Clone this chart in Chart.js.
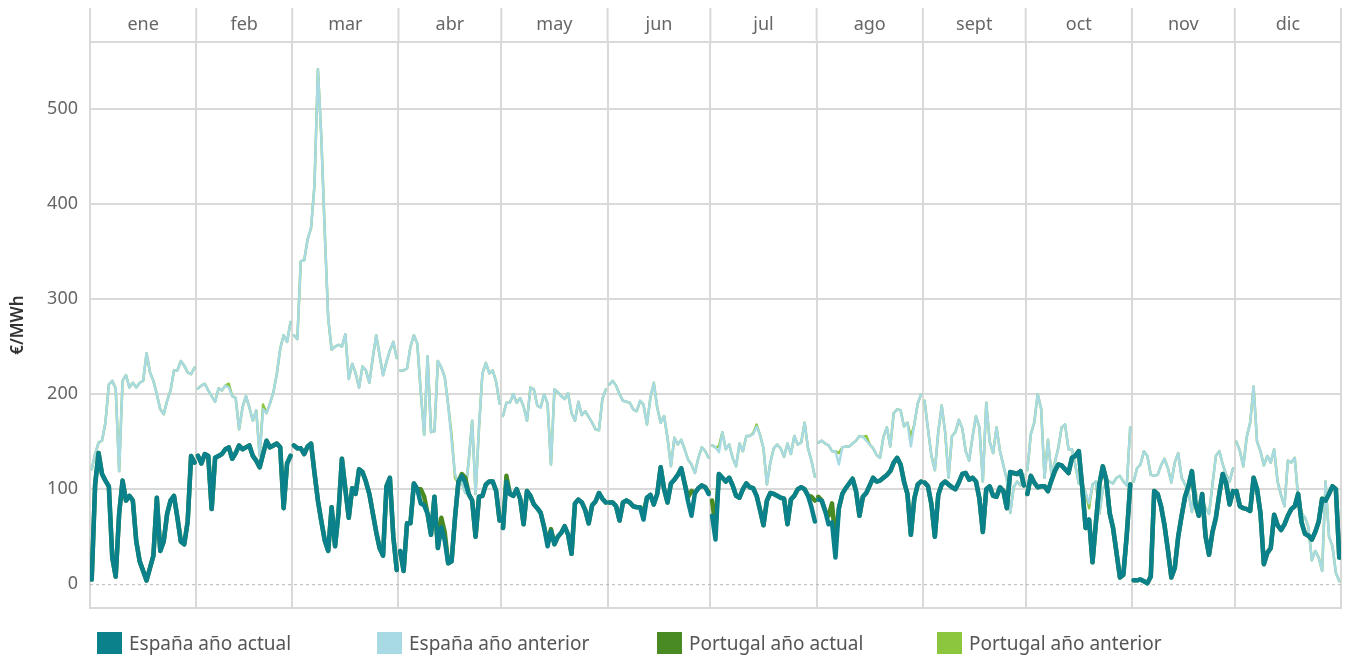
<!DOCTYPE html>
<html>
<head>
<meta charset="utf-8">
<script src="https://cdn.jsdelivr.net/npm/chart.js@4.4.0/dist/chart.umd.min.js"></script>
<style>
  body { margin: 0; background: #fff; font-family: 'Noto Sans', sans-serif; }
  #wrap { position: relative; width: 1348px; height: 631px; }
  #legend { position: absolute; top: 632px; left: 0; width: 1348px; height: 22px; }
  .item { position: absolute; top: 0; height: 22px; display: flex; align-items: center; font-size: 19px; color: #555; }
  .sw { width: 25px; height: 22px; margin-right: 7px; }
</style>
</head>
<body>
<div id="wrap"><canvas id="priceChart" width="1348" height="631"></canvas></div>
<div id="legend"></div>
<script>
// Meses y días por mes
const months = ['ene', 'feb', 'mar', 'abr', 'may', 'jun', 'jul', 'ago', 'sept', 'oct', 'nov', 'dic'];
const monthDays = [31, 28, 31, 30, 31, 30, 31, 31, 30, 31, 30, 31];
const yTicks = [0, 100, 200, 300, 400, 500];

// Precio diario (€/MWh), un mes por línea
const esActual = [
  5,105,138,116,109,103,28,8,74,109,88,93,88,45,24,14,4,17,30,91,35,45,74,88,93,70,45,42,66,135,128,
  135,127,137,135,79,133,135,137,142,144,132,138,146,142,144,146,135,130,123,137,151,144,146,148,144,80,127,135,
  146,143,143,137,145,148,117,88,66,46,35,81,40,75,132,100,70,101,95,121,118,108,95,75,55,38,30,103,112,50,15,
  35,14,64,64,106,100,85,83,74,52,92,38,60,46,22,24,70,108,114,107,95,88,50,92,93,105,108,108,98,67,
  59,108,95,93,100,90,63,98,93,84,80,75,60,40,56,42,50,54,61,52,32,85,89,86,78,64,83,87,96,90,86,
  86,86,82,67,86,88,86,82,81,81,68,91,94,84,95,123,100,86,106,110,115,122,106,87,72,96,101,104,102,95,
  72,47,116,112,108,112,104,93,91,100,106,102,101,93,78,62,88,96,95,93,91,90,63,89,93,100,102,100,93,81,66,
  89,88,77,63,65,28,80,95,101,106,111,98,72,92,96,104,112,108,109,112,115,119,128,133,126,108,95,52,90,105,108,
  107,103,84,50,94,105,108,105,102,100,107,116,117,110,112,108,90,55,100,103,93,92,102,98,80,118,117,116,119,104,
  95,114,107,102,103,103,98,109,119,126,125,121,117,133,135,140,102,59,68,23,65,105,124,110,75,59,33,7,10,52,105,
  4,4,5,3,1,8,98,95,82,62,36,7,17,50,72,92,103,119,85,72,95,50,31,55,70,95,116,106,84,98,
  98,82,80,79,77,112,100,75,21,33,38,73,62,57,63,72,79,82,95,65,53,51,47,55,66,90,88,95,103,100,28
];

const esAnterior = [
  121,137,149,151,170,210,214,206,119,214,220,207,212,207,212,214,243,223,214,200,184,179,193,204,225,225,235,230,223,221,228,
  206,209,211,204,198,192,206,204,209,207,198,196,163,186,198,186,172,183,135,184,180,190,202,221,248,262,255,276,
  262,258,340,341,363,375,420,542,470,370,280,247,250,252,250,263,216,232,222,207,229,225,212,238,262,241,220,234,246,255,238,
  225,225,227,250,262,253,203,157,240,160,161,235,228,218,189,152,116,106,107,96,130,172,95,165,222,233,222,225,213,190,
  177,191,191,200,191,196,187,172,207,205,188,186,200,190,126,205,202,198,195,201,180,172,192,178,182,176,170,163,162,195,205,
  210,214,209,200,193,192,191,184,182,193,189,168,196,212,186,170,177,154,124,154,147,152,142,131,126,117,133,144,140,133,
  146,144,139,160,142,147,133,124,148,140,156,156,158,166,157,143,105,128,143,147,143,134,148,137,156,147,149,170,143,130,113,
  149,151,148,146,140,140,126,144,145,145,148,151,156,155,151,147,143,136,133,155,165,145,180,184,183,166,170,145,168,190,200,
  193,163,135,120,160,188,160,112,156,160,173,164,140,130,155,177,165,108,191,150,138,165,140,125,110,75,102,108,104,115,
  120,158,170,200,185,112,152,116,128,143,165,168,142,142,125,106,105,96,85,105,108,74,100,106,108,106,112,114,108,104,165,
  108,122,126,140,135,115,114,115,125,132,122,107,128,138,112,105,97,76,100,76,88,80,74,105,135,140,126,115,108,122,
  150,140,124,155,170,208,150,140,125,135,128,142,108,94,82,130,128,133,91,75,70,60,25,35,28,14,108,50,40,12,3
];

const ptActual = [
  5,105,138,116,109,103,28,8,74,109,88,93,88,45,24,14,4,17,30,91,35,45,74,88,93,70,45,42,66,135,128,
  135,127,137,135,79,133,135,137,142,144,132,138,146,142,144,146,135,130,123,137,151,144,146,148,144,80,127,135,
  146,143,143,137,145,148,117,88,66,46,35,81,40,75,132,100,70,101,95,121,118,108,95,75,55,38,30,103,112,50,15,
  35,14,64,64,106,100,100,92,74,52,92,38,70,55,22,24,70,108,116,112,95,88,50,92,93,105,108,108,98,67,
  59,114,95,93,100,90,63,98,93,84,80,75,60,44,58,42,50,54,61,52,32,85,89,86,78,64,83,87,96,90,86,
  86,86,82,67,86,88,86,82,81,81,75,91,94,84,95,123,100,86,106,110,115,122,106,92,98,96,101,104,102,97,
  88,60,116,112,108,112,104,93,91,100,106,102,101,93,78,62,88,96,95,93,91,90,63,89,93,100,102,100,93,92,88,
  92,88,77,72,85,45,80,95,101,106,111,98,72,92,96,104,112,108,109,112,115,119,128,133,126,108,95,52,90,105,108,
  107,103,84,50,94,105,108,105,102,100,107,116,117,110,112,108,90,55,100,103,93,92,102,98,80,118,117,116,119,104,
  95,114,107,102,103,103,98,109,119,126,125,121,117,133,135,140,102,59,68,23,65,105,124,110,75,59,33,7,10,52,105,
  4,4,5,3,1,8,98,95,82,62,36,7,17,50,72,92,103,119,85,72,95,50,31,55,70,95,116,106,84,98,
  98,82,80,79,77,112,100,75,21,33,38,73,62,57,63,72,79,82,95,65,53,51,47,55,66,90,88,95,103,100,28
];

const ptAnterior = [
  121,137,149,151,170,210,214,206,119,214,220,207,212,207,212,214,243,223,214,200,184,179,193,204,225,225,235,230,223,221,228,
  206,209,211,204,198,192,206,204,209,211,198,196,163,186,198,186,172,183,135,189,180,190,202,221,248,262,255,276,
  262,258,340,341,363,375,420,542,470,370,280,247,250,252,250,263,216,232,222,207,229,225,212,238,262,241,220,234,246,255,238,
  225,225,227,250,262,253,203,157,240,160,161,235,228,218,189,157,112,106,107,96,130,172,95,165,222,233,222,225,213,190,
  177,191,191,200,191,196,187,172,207,205,188,186,200,190,126,205,202,198,195,201,180,172,192,178,182,176,170,163,162,195,205,
  210,214,209,200,193,192,191,184,182,193,189,168,196,212,186,170,177,154,124,154,147,152,142,131,126,117,133,144,140,133,
  146,144,145,160,142,147,133,124,148,140,156,156,159,168,157,143,105,128,143,147,143,134,148,137,156,147,149,170,143,130,113,
  149,151,148,146,140,140,138,144,145,145,148,151,156,155,156,147,143,136,133,155,165,145,180,184,183,166,170,155,168,190,200,
  193,163,135,120,160,188,160,112,156,160,173,164,140,130,155,177,165,108,191,150,138,165,140,125,110,75,102,108,104,115,
  120,158,170,200,185,112,152,116,128,143,165,168,142,142,125,106,105,96,80,105,108,74,100,106,108,106,112,114,108,104,165,
  108,122,126,140,135,115,114,115,125,132,122,107,128,138,112,105,97,76,100,76,88,80,74,105,135,140,126,115,108,122,
  150,140,124,155,170,208,150,140,125,135,128,142,108,94,82,130,128,133,91,75,70,60,25,35,28,14,108,50,40,12,3
];

const series = [
  { label: 'España año actual', values: esActual, color: '#0b818b', width: 4.5 },
  { label: 'España año anterior', values: esAnterior, color: '#a8dae3', width: 2.5 },
  { label: 'Portugal año actual', values: ptActual, color: '#4a8a22', width: 4.5 },
  { label: 'Portugal año anterior', values: ptAnterior, color: '#8cc63f', width: 2.5 }
];
// orden de dibujo: 0 = encima
const drawOrder = [0, 2, 1, 3];

// límites de mes en días del año
const monthBounds = [0];
monthDays.forEach(n => monthBounds.push(monthBounds[monthBounds.length - 1] + n));

// un punto por día, la línea se corta entre meses
function buildPoints(values) {
  const pts = [];
  monthDays.forEach((n, m) => {
    const start = monthBounds[m];
    for (let d = 0; d < n; d++) {
      pts.push({ x: start + d + 0.5, y: values[start + d] });
    }
    pts.push({ x: monthBounds[m + 1], y: null });
  });
  return pts;
}

const gridColor = '#d9d9d9';

const monthHeader = {
  id: 'monthHeader',
  beforeDatasetsDraw(chart) {
    const { ctx, chartArea, scales: { x, y } } = chart;
    ctx.save();
    // línea de cero punteada
    const y0 = y.getPixelForValue(0);
    ctx.strokeStyle = '#b8b8b8';
    ctx.lineWidth = 1;
    ctx.setLineDash([3, 3]);
    ctx.beginPath();
    ctx.moveTo(chartArea.left, y0 + 0.5);
    ctx.lineTo(chartArea.right, y0 + 0.5);
    ctx.stroke();
    ctx.setLineDash([]);

    // cabecera de meses
    ctx.strokeStyle = gridColor;
    ctx.lineWidth = 2;
    ctx.beginPath();
    ctx.moveTo(chartArea.left, chartArea.top);
    ctx.lineTo(chartArea.right, chartArea.top);
    monthBounds.forEach(v => {
      const px = x.getPixelForValue(v);
      ctx.moveTo(px, 8);
      ctx.lineTo(px, chartArea.top);
    });
    ctx.stroke();

    ctx.fillStyle = '#666';
    ctx.font = '18px "Noto Sans"';
    ctx.textAlign = 'center';
    ctx.textBaseline = 'middle';
    months.forEach((name, m) => {
      const mid = x.getPixelForValue((monthBounds[m] + monthBounds[m + 1]) / 2);
      ctx.fillText(name, mid, 25);
    });
    ctx.restore();
  }
};

const ctx = document.getElementById('priceChart').getContext('2d');
const priceChart = new Chart(ctx, {
  type: 'line',
  data: {
    datasets: series.map((s, i) => ({
      label: s.label,
      data: buildPoints(s.values),
      borderColor: s.color,
      backgroundColor: s.color,
      borderWidth: s.width,
      order: drawOrder[i]
    }))
  },
  options: {
    responsive: false,
    animation: false,
    devicePixelRatio: 1,
    spanGaps: false,
    layout: { padding: { top: 42, right: 7, bottom: 0, left: 0 } },
    elements: {
      point: { radius: 0, hoverRadius: 0 },
      line: { tension: 0, borderJoinStyle: 'round', borderCapStyle: 'round' }
    },
    plugins: {
      legend: { display: false },
      tooltip: { enabled: false }
    },
    scales: {
      x: {
        type: 'linear',
        min: 0,
        max: 365,
        afterBuildTicks: scale => { scale.ticks = monthBounds.map(v => ({ value: v })); },
        afterFit: scale => { scale.height = 11; },
        ticks: { display: false },
        grid: { color: gridColor, lineWidth: 2, drawTicks: false },
        border: { display: true, color: gridColor, width: 2 }
      },
      y: {
        min: -25.3,
        max: 570.7,
        afterBuildTicks: scale => { scale.ticks = yTicks.map(v => ({ value: v })); },
        afterFit: scale => { scale.width = 90; },
        ticks: {
          color: '#666',
          padding: 12,
          font: { family: 'Noto Sans', size: 18 }
        },
        grid: {
          color: c => (c.tick && c.tick.value === 0) ? 'rgba(0,0,0,0)' : gridColor,
          lineWidth: 2,
          drawTicks: false
        },
        border: { display: false },
        title: {
          display: true,
          text: '€/MWh',
          color: '#333',
          padding: { top: 8, bottom: 0 },
          font: { family: 'Noto Sans', size: 17, weight: '600' }
        }
      }
    }
  },
  plugins: [monthHeader]
});

// Leyenda
const legend = document.getElementById('legend');
const legendX = [97, 377, 657, 937];
series.forEach((s, i) => {
  const item = document.createElement('div');
  item.className = 'item';
  item.style.left = legendX[i] + 'px';
  item.innerHTML = `<span class="sw" style="background:${s.color}"></span>${s.label}`;
  legend.appendChild(item);
});
</script>
</body>
</html>
